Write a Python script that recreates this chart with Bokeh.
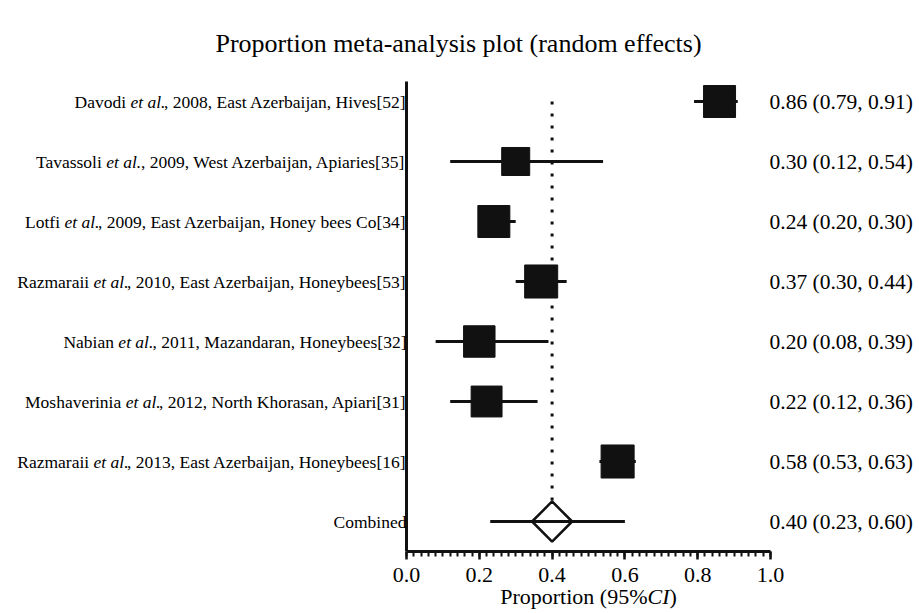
import math
from bokeh.plotting import figure
from bokeh.layouts import column
from bokeh.models import ColumnDataSource, Range1d, FixedTicker
from bokeh.core.properties import value
from bokeh.embed import file_html
from bokeh.resources import INLINE

# ---------------- data ----------------
title_text = "Proportion meta-analysis plot (random effects)"
authors = ["Davodi", "Tavassoli", "Lotfi", "Razmaraii", "Nabian", "Moshaverinia", "Razmaraii"]
details = [
    ", 2008, East Azerbaijan, Hives[52]",
    ", 2009, West Azerbaijan, Apiaries[35]",
    ", 2009, East Azerbaijan, Honey bees Co[34]",
    ", 2010, East Azerbaijan, Honeybees[53]",
    ", 2011, Mazandaran, Honeybees[32]",
    ", 2012, North Khorasan, Apiari[31]",
    ", 2013, East Azerbaijan, Honeybees[16]",
]
estimate = [0.86, 0.30, 0.24, 0.37, 0.20, 0.22, 0.58]
ci_low = [0.79, 0.12, 0.20, 0.30, 0.08, 0.12, 0.53]
ci_high = [0.91, 0.54, 0.30, 0.44, 0.39, 0.36, 0.63]
weights = [15.0, 11.5, 15.0, 16.0, 14.5, 14.0, 16.0]
combined_label = "Combined"
combined_est = 0.40
combined_low = 0.23
combined_high = 0.60
x_ticks = [0.0, 0.2, 0.4, 0.6, 0.8, 1.0]
x_tick_labels = ["0.0", "0.2", "0.4", "0.6", "0.8", "1.0"]
x_label_parts = ["Proportion (95%", "CI", ")"]

# ---------------- text metrics (Times / Liberation Serif) ----------------
TIMES = {' ': 250, ',': 250, '.': 250, '[': 333, ']': 333, '(': 333, ')': 333, '%': 833, '-': 333,
         'a': 444, 'b': 500, 'c': 444, 'd': 500, 'e': 444, 'f': 333, 'g': 500, 'h': 500, 'i': 278,
         'j': 278, 'k': 500, 'l': 278, 'm': 778, 'n': 500, 'o': 500, 'p': 500, 'q': 500, 'r': 333,
         's': 389, 't': 278, 'u': 500, 'v': 500, 'w': 722, 'x': 500, 'y': 500, 'z': 444,
         'A': 722, 'B': 667, 'C': 667, 'D': 722, 'E': 611, 'F': 556, 'G': 722, 'H': 722, 'I': 333,
         'J': 389, 'K': 722, 'L': 611, 'M': 889, 'N': 722, 'O': 722, 'P': 556, 'Q': 722, 'R': 667,
         'S': 556, 'T': 611, 'U': 722, 'V': 722, 'W': 944, 'X': 722, 'Y': 722, 'Z': 611}
TIMES_I = dict(TIMES)
TIMES_I.update({'a': 500, 'C': 667, 'I': 333})
for d in "0123456789":
    TIMES[d] = 500
    TIMES_I[d] = 500


def tw(s, size, italic=False):
    table = TIMES_I if italic else TIMES
    return sum(table.get(c, 500) for c in s) * size / 1000.0


# ---------------- geometry (canvas pixels) ----------------
W = 916
PX_X = 364.0          # pixels per unit proportion
X0 = 406.0            # canvas x of proportion 0
ROW = 60.0            # pixels per row
ROW0 = 101.0          # canvas y of first row
FRAME_H = 551.0       # canvas y of x-axis line
BOTTOM = 12
H1 = int(FRAME_H) + BOTTOM
H2 = 46
xmin, xmax = -X0 / PX_X, (W - X0) / PX_X
ymax, ymin = ROW0 / ROW, -(FRAME_H - ROW0) / ROW
axis_top = (ROW0 - 81.0) / ROW
title_y = (ROW0 - 43.0) / ROW

LEFT_FS, RIGHT_FS, TITLE_FS, TICK_FS = 17.5, 21.5, 26, 22
FONT = "Liberation Serif"
INK = "#111111"

n = len(authors)
rows = [-i for i in range(n)]
italic_txt = "et al."
pad = 0.0
kern = 1.5
suffix_off, italic_off, prefix_off = [], [], []
for det in details:
    ws = tw(det, LEFT_FS)
    wi = tw(italic_txt, LEFT_FS, italic=True)
    wsp = tw(" ", LEFT_FS)
    suffix_off.append(-pad)
    italic_off.append(-pad - ws + kern)
    prefix_off.append(-pad - ws - wi - wsp + kern)

src = ColumnDataSource(dict(
    y=rows, est=estimate, lo=ci_low, hi=ci_high,
    size=[8.26 * math.sqrt(w) for w in weights],
    author=authors, detail=details, etal=[italic_txt] * n,
    zero=[0.0] * n, one=[1.0] * n,
    suffix_off=suffix_off, italic_off=italic_off, prefix_off=prefix_off,
    right=[f"{e:.2f} ({l:.2f}, {h:.2f})" for e, l, h in zip(estimate, ci_low, ci_high)],
))

xr = Range1d(xmin, xmax)
p = figure(width=W, height=H1, x_range=xr, y_range=Range1d(ymin, ymax),
           output_backend="svg", toolbar_location=None, y_axis_location=None,
           min_border_left=0, min_border_right=0, min_border_top=0, min_border_bottom=BOTTOM)
p.grid.visible = False
p.outline_line_color = None

ax = p.xaxis[0]
ax.bounds = (0, 1)
ax.ticker = FixedTicker(ticks=x_ticks, minor_ticks=[i * 0.02 for i in range(51)])
ax.axis_line_width = 3
ax.axis_line_color = INK
ax.major_tick_line_width = 2.5
ax.major_tick_line_color = INK
ax.minor_tick_line_width = 2
ax.minor_tick_line_color = INK
ax.major_tick_out = 8
ax.major_tick_in = 0
ax.minor_tick_out = 5
ax.minor_tick_in = 0
ax.major_label_text_font_size = "0px"
ax.major_label_text_color = None
ax.major_label_standoff = 0

# vertical axis line
p.segment(x0=[0], y0=[axis_top], x1=[0], y1=[ymin], line_width=3, line_color=INK)

# reference dotted line at combined estimate
p.segment(x0=[combined_est], y0=[rows[0]], x1=[combined_est], y1=[-n + 20.0 / ROW],
          line_width=3, line_color=INK, line_dash="3 9")

# CIs and boxes
p.segment(x0="lo", y0="y", x1="hi", y1="y", source=src, line_width=3, line_color=INK)
p.scatter(x="est", y="y", size="size", marker="square", source=src,
          fill_color=INK, line_color=INK, line_width=1)

# combined
p.segment(x0=[combined_low], y0=[-n], x1=[combined_high], y1=[-n], line_width=3, line_color=INK)
p.scatter(x=[combined_est], y=[-n], size=28.3, marker="square", angle=math.pi / 4,
          fill_alpha=0, line_color=INK, line_width=2.5)

# left labels
common = dict(text_font=value(FONT), text_font_size=value(f"{LEFT_FS}px"), text_color="black",
              text_baseline="middle", text_align="right")
p.text(x="zero", y="y", text="detail", x_offset="suffix_off", source=src, **common)
p.text(x="zero", y="y", text="etal", x_offset="italic_off", source=src, text_font_style="italic", **common)
p.text(x="zero", y="y", text="author", x_offset="prefix_off", source=src, **common)
p.text(x=[0], y=[-n], text=[combined_label], x_offset=-pad, **common)

# right labels
rcommon = dict(text_font=value(FONT), text_font_size=value(f"{RIGHT_FS}px"), text_color="black",
               text_baseline="middle", text_align="left")
p.text(x="one", y="y", text="right", x_offset=-1, source=src, **rcommon)
p.text(x=[1.0], y=[-n], text=[f"{combined_est:.2f} ({combined_low:.2f}, {combined_high:.2f})"],
       x_offset=-1, **rcommon)

# title
p.text(x=[(xmin + xmax) / 2], y=[title_y], text=[title_text], text_font=value(FONT),
       text_font_size=value(f"{TITLE_FS}px"), text_color="black", text_align="center",
       text_baseline="middle")

# ---------------- strip below: tick labels and axis label ----------------
q = figure(width=W, height=H2, x_range=xr, y_range=Range1d(H2, 0),
           output_backend="svg", toolbar_location=None, x_axis_location=None, y_axis_location=None,
           min_border_left=0, min_border_right=0, min_border_top=0, min_border_bottom=0)
q.grid.visible = False
q.outline_line_color = None

q.text(x=x_ticks, y=[11.0] * len(x_ticks), text=x_tick_labels, text_font=value(FONT),
       text_font_size=value(f"{TICK_FS}px"), text_color="black", text_align="center",
       text_baseline="middle")

widths = [tw(x_label_parts[0], TICK_FS), tw(x_label_parts[1], TICK_FS, True), tw(x_label_parts[2], TICK_FS)]
start = -sum(widths) / 2
offs = [start, start + widths[0], start + widths[0] + widths[1]]
styles = ["normal", "italic", "normal"]
for t, o, s in zip(x_label_parts, offs, styles):
    q.text(x=[0.5], y=[33.0], text=[t], x_offset=o, text_font=value(FONT),
           text_font_size=value(f"{TICK_FS}px"), text_font_style=s, text_color="black",
           text_align="left", text_baseline="middle")

layout = column(p, q, spacing=0)
open("out.html", "w").write(file_html(layout, INLINE))
